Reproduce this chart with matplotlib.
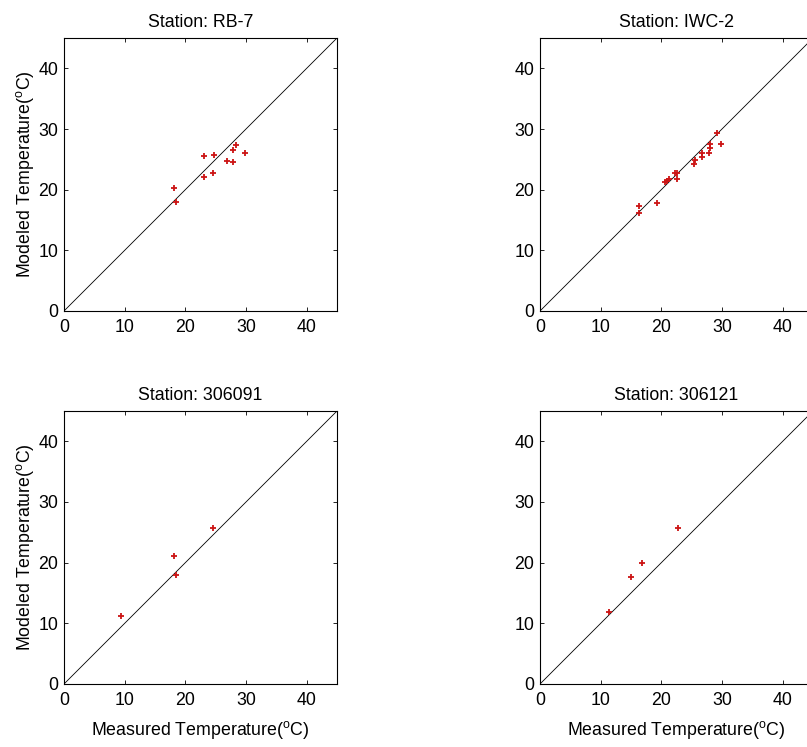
import numpy as np
import matplotlib
matplotlib.use('Agg')
import matplotlib.pyplot as plt

plt.rcParams['font.family'] = ['Liberation Sans', 'DejaVu Sans']
plt.rcParams['mathtext.fontset'] = 'custom'
plt.rcParams['mathtext.rm'] = 'Liberation Sans'
plt.rcParams['mathtext.it'] = 'Liberation Sans'

# station names
stations = ['RB-7', 'IWC-2', '306091', '306121']

# measured / modeled temperature (deg C)
meas_rb7 = [18.2, 18.5, 23.0, 23.1, 24.8, 24.5, 26.9, 27.8, 27.9, 28.3, 29.9]
mod_rb7 = [20.2, 18.0, 25.5, 22.1, 25.7, 22.7, 24.7, 24.5, 26.5, 27.3, 26.1]

meas_iwc2 = [16.3, 16.3, 19.3, 20.6, 20.9, 21.2, 22.2, 22.5, 22.5, 25.4, 25.5,
             26.7, 26.7, 27.9, 28.1, 28.1, 29.1, 29.8]
mod_iwc2 = [17.3, 16.1, 17.8, 21.2, 21.5, 21.8, 22.7, 22.7, 21.8, 24.2, 24.9,
            25.4, 26.1, 26.0, 26.8, 27.5, 29.3, 27.5]

meas_306091 = [9.4, 18.1, 18.4, 24.5]
mod_306091 = [11.2, 21.1, 18.0, 25.7]

meas_306121 = [11.4, 15.0, 16.8, 22.7]
mod_306121 = [11.8, 17.6, 19.9, 25.7]

measured = [meas_rb7, meas_iwc2, meas_306091, meas_306121]
modeled = [mod_rb7, mod_iwc2, mod_306091, mod_306121]

ticks = [0, 10, 20, 30, 40]
lim = 45

W, H = 807, 747
fig = plt.figure(figsize=(W/100, H/100), dpi=100)

# axes boxes in pixels: left, bottom-from-top
lefts = [64, 540, 64, 540]
bottoms = [311, 311, 684, 684]
size = 273

ylab = 'Modeled Temperature($^{\\mathrm{o}}$C)'
xlab = 'Measured Temperature($^{\\mathrm{o}}$C)'

for i in range(4):
    ax = fig.add_axes([lefts[i]/W, (H-bottoms[i])/H, size/W, size/H])
    ax.plot([0, lim], [0, lim], color='black', lw=0.6)
    ax.plot(measured[i], modeled[i], linestyle='none', marker='+',
            ms=4.5, mew=1.3, color='#cc1414')
    ax.set_xlim(0, lim)
    ax.set_ylim(0, lim)
    ax.set_xticks(ticks)
    ax.set_yticks(ticks)
    ax.tick_params(direction='in', length=3, width=0.6, labelsize=12.8,
                   top=True, right=True)
    ax.tick_params(axis='x', pad=6)
    ax.tick_params(axis='y', pad=4)
    for s in ax.spines.values():
        s.set_linewidth(0.8)
    ax.set_title('Station: ' + stations[i], fontsize=12.8, pad=8)
    if i in (0, 2):
        ax.set_ylabel(ylab, fontsize=12.8, labelpad=2)
    if i in (2, 3):
        ax.set_xlabel(xlab, fontsize=12.8, labelpad=7)

fig.savefig('out.png', dpi=100)
